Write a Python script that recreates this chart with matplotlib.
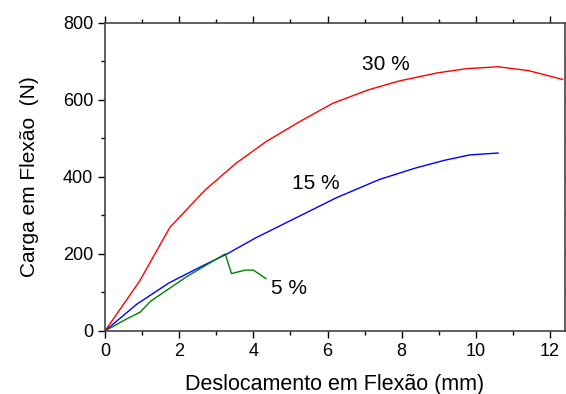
import numpy as np
import matplotlib
matplotlib.use("Agg")
import matplotlib.pyplot as plt
from matplotlib.ticker import MultipleLocator

plt.rcParams['font.family'] = ['Liberation Sans', 'DejaVu Sans']

# data (displacement mm, load N)
x30 = [0, 0.93, 1.75, 2.69, 3.54, 4.35, 5.24, 6.14, 7.10, 7.93, 8.96, 9.74, 10.60, 11.42, 12.34]
y30 = [0, 129, 269, 365, 436, 492, 543, 591, 626, 649, 670, 681, 686, 676, 653]

x15 = [0, 0.85, 1.73, 2.61, 3.29, 4.07, 5.24, 6.22, 7.39, 8.37, 9.15, 9.83, 10.60]
y15 = [0, 69, 125, 168, 200, 242, 298, 345, 393, 423, 443, 457, 462]

x5 = [0, 0.56, 0.95, 1.24, 2.22, 3.24, 3.41, 3.78, 4.00, 4.34]
y5 = [0, 30, 49, 78, 142, 200, 149, 158, 158, 136]

labels = ['30 %', '15 %', '5 %']
label_pos = [(7.57, 692), (5.68, 382), (4.97, 109)]

fig = plt.figure(figsize=(5.66, 3.94), dpi=100)
ax = fig.add_axes([0.1855, 0.160, 0.8125, 0.782])

ax.plot(x30, y30, color='#ff0000', lw=1.0)
ax.plot(x15, y15, color='#0000ff', lw=1.0)
ax.plot(x5, y5, color='#008000', lw=1.0)

for t, (px, py) in zip(labels, label_pos):
    ax.text(px, py, t, fontsize=15, ha='center', va='center')

ax.set_xlim(0, 12.4)
ax.set_ylim(0, 800)
ax.xaxis.set_major_locator(MultipleLocator(2))
ax.xaxis.set_minor_locator(MultipleLocator(1))
ax.yaxis.set_major_locator(MultipleLocator(200))
ax.yaxis.set_minor_locator(MultipleLocator(100))
ax.tick_params(which='both', direction='out', top=True, right=True, labelsize=13, width=1)
ax.tick_params(which='major', length=5)
ax.tick_params(which='minor', length=3)
for s in ax.spines.values():
    s.set_linewidth(1.2)
    s.set_color('#444444')

ax.set_xlabel("Deslocamento em Flexão (mm)", fontsize=15.5, labelpad=10)
ax.set_ylabel("Carga em Flexão  (N)", fontsize=15, labelpad=17)

fig.savefig("out.png", dpi=100)
